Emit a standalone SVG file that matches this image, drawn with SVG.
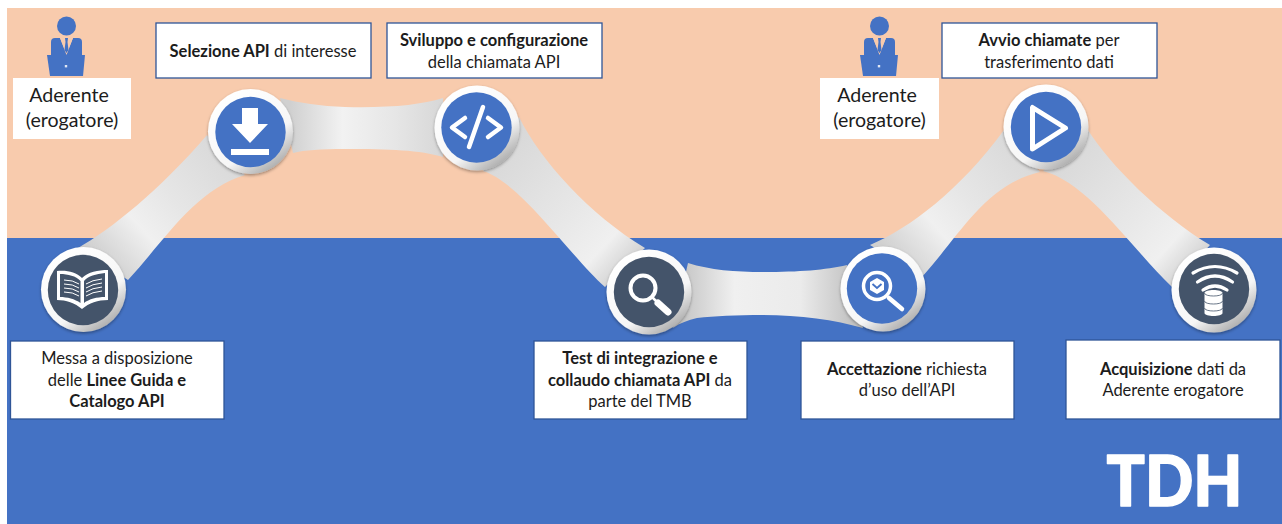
<svg xmlns="http://www.w3.org/2000/svg" xmlns:xlink="http://www.w3.org/1999/xlink" width="1282" height="524" viewBox="0 0 1282 524">
<style>
text{font-family:"Lato","Open Sans","Liberation Sans",sans-serif;fill:#1c1c1c;text-anchor:middle}
.t{font-size:16.5px}
.a{font-size:19.6px}
.b{font-weight:700}
.box{fill:#fff;stroke:#2F5597;stroke-width:1.3}
.wbox{fill:#fff}
.ring{fill:url(#ringG);filter:url(#sh)}
.navy{fill:#44546A}
.blue{fill:#4472C4}
.ic{fill:none;stroke:#fff;stroke-linecap:round;stroke-linejoin:round}
.ln{fill:none;stroke:#fff;stroke-width:1}
</style>
<defs>
<linearGradient id="ringG" x1="0.2" y1="0.1" x2="0.8" y2="0.95"><stop offset="0" stop-color="#fff"/><stop offset="0.65" stop-color="#f6f6f6"/><stop offset="1" stop-color="#a8a8a8"/></linearGradient>
<filter id="sh" x="-20%" y="-20%" width="140%" height="140%"><feDropShadow dx="0" dy="1.5" stdDeviation="1.8" flood-color="#000" flood-opacity="0.35"/></filter>
<linearGradient id="r1" gradientUnits="userSpaceOnUse" x1="105" y1="265" x2="232" y2="150"><stop offset="0" stop-color="#d0d0d0"/><stop offset="0.3" stop-color="#f0f0f0"/><stop offset="0.55" stop-color="#e6e6e6"/><stop offset="1" stop-color="#d8d8d8"/></linearGradient>
<linearGradient id="r2" gradientUnits="userSpaceOnUse" x1="290" y1="0" x2="440" y2="0"><stop offset="0" stop-color="#d0d0d0"/><stop offset="0.35" stop-color="#f2f2f2"/><stop offset="0.7" stop-color="#e6e6e6"/><stop offset="1" stop-color="#d8d8d8"/></linearGradient>
<linearGradient id="r3" gradientUnits="userSpaceOnUse" x1="500" y1="150" x2="630" y2="270"><stop offset="0" stop-color="#d8d8d8"/><stop offset="0.55" stop-color="#e8e8e8"/><stop offset="0.8" stop-color="#f0f0f0"/><stop offset="1" stop-color="#d0d0d0"/></linearGradient>
<linearGradient id="r4" gradientUnits="userSpaceOnUse" x1="685" y1="0" x2="850" y2="0"><stop offset="0" stop-color="#c8c8c8"/><stop offset="0.3" stop-color="#f0f0f0"/><stop offset="0.7" stop-color="#ebebeb"/><stop offset="1" stop-color="#c4c4c4"/></linearGradient>
<linearGradient id="r5" gradientUnits="userSpaceOnUse" x1="900" y1="265" x2="1030" y2="150"><stop offset="0" stop-color="#d0d0d0"/><stop offset="0.3" stop-color="#f0f0f0"/><stop offset="0.55" stop-color="#e6e6e6"/><stop offset="1" stop-color="#d8d8d8"/></linearGradient>
<linearGradient id="r6" gradientUnits="userSpaceOnUse" x1="1065" y1="150" x2="1195" y2="270"><stop offset="0" stop-color="#d8d8d8"/><stop offset="0.55" stop-color="#e8e8e8"/><stop offset="0.8" stop-color="#f0f0f0"/><stop offset="1" stop-color="#d0d0d0"/></linearGradient>
<g id="person">
<circle cx="66.5" cy="26" r="9.5" class="blue"/>
<path class="blue" d="M51,42 Q51,38 55,38 L60,38 L66.5,54 L73,38 L78,38 Q82,38 82,42 L82,55 L51,55Z"/>
<path fill="#F8CBAD" d="M60,38 L62.5,37.5 L66.5,52 L70.5,37.5 L73,38 L66.5,55Z"/>
<path class="blue" d="M65,38 L68,38 L67.5,42 L68.5,50 L66.5,53 L64.5,50 L65.5,42Z"/>
<path class="blue" d="M47,55 L85,55 L83,76 L50,76Z"/>
<rect x="64.8" y="65" width="2.4" height="2.4" fill="#dfe6f4"/>
</g>
</defs>

<rect x="7" y="8" width="1275" height="230" fill="#F8CBAD"/>
<rect x="7" y="238" width="1275" height="286" fill="#4472C4"/>

<g id="connectors">
<path fill="url(#r1)" d="M78,248 C110,230 160,190 207,135 L245,175 C195,190 165,240 128,280 Z"/>
<path fill="url(#r2)" d="M280,98 C300,103 320,106 345,107 C390,108 420,105 443,98 L443,157 C420,150 390,149 345,149 C320,149 305,150 293,153 Z"/>
<path fill="url(#r3)" d="M519,117 C540,160 590,215 645,248 L605,287 C571,257 520,182 483,171 Z"/>
<path fill="url(#r4)" d="M688,263 C710,270 735,272 763,272 C800,272 825,270 847,265 L863,328 C835,320 800,315 763,315 C735,315 715,316 697,318 C688,320 680,323 673,328 Z"/>
<path fill="url(#r5)" d="M870,245 C910,228 960,190 1004,130 L1040,172 C985,185 960,235 922,277 Z"/>
<path fill="url(#r6)" d="M1088,130 C1110,165 1160,215 1210,245 L1172,287 C1133,250 1088,182 1043,171 Z"/>
</g>

<g id="n-book">
<circle class="ring" cx="83.5" cy="289.5" r="42.5"/>
<circle class="navy" cx="83" cy="290" r="35.2"/>
<path fill="#fff" d="M57,271 C67,270 76,272 82,278 C88,272 98,270 108,270 L108,300 C98,300 89,303 82,309 C75,303 66,300 57,300Z"/>
<path class="navy" d="M60,274 C68,274 76,276 80.5,281 L80.5,303 C75,299 67,297 60,297Z M84,281 C88,276 96,274 105,273 L105,297 C97,297 89,299 84,303Z"/>
<path class="ln" d="M64,280 Q73,280 79,284 M64,284 Q73,284 79,288 M64,288 Q73,288 79,292 M64,292 Q73,292 79,296 M86,284 Q92,280 102,279 M86,288 Q92,284 102,283 M86,292 Q92,288 102,287 M86,296 Q92,292 102,291"/>
</g>

<g id="n-download">
<circle class="ring" cx="250.5" cy="131.5" r="42.5"/>
<circle class="blue" cx="250.5" cy="132" r="35.2"/>
<path fill="#fff" d="M242,108 L258,108 L258,124 L268,124 L250,143 L232,124 L242,124Z"/>
<rect x="231" y="149" width="38" height="6" fill="#fff"/>
</g>

<g id="n-code">
<circle class="ring" cx="477" cy="128" r="42.5"/>
<circle class="blue" cx="476.5" cy="127.5" r="35.2"/>
<path class="ic" stroke-width="4.5" d="M465,118 L452,127.5 L465,137 M483,107 L469,147 M488,118 L501,127.5 L488,137"/>
</g>

<g id="n-test">
<circle class="ring" cx="649" cy="292" r="42.5"/>
<circle class="navy" cx="649" cy="292" r="35.2"/>
<circle cx="643" cy="288" r="12.5" fill="none" stroke="#fff" stroke-width="4"/>
<path class="ic" stroke-width="2.5" d="M653,298 L657,302"/>
<path class="ic" stroke-width="7" stroke-linecap="butt" d="M658,303 L668,312"/>
</g>

<g id="n-accept">
<circle class="ring" cx="883" cy="289" r="42.5"/>
<circle class="blue" cx="882" cy="288.5" r="35.2"/>
<circle cx="877" cy="286" r="13.5" fill="none" stroke="#fff" stroke-width="3.5"/>
<path fill="#fff" d="M877,278 L884,282 L884,290 L877,294 L870,290 L870,282Z"/>
<path fill="none" stroke="#4472C4" stroke-width="1.8" d="M872.5,284 L877,288 L881.5,284"/>
<path class="ic" stroke-width="4.5" d="M889,298 L902,309"/>
</g>

<g id="n-play">
<circle class="ring" cx="1046" cy="127" r="42.5"/>
<circle class="blue" cx="1046" cy="127" r="35.2"/>
<path class="ic" stroke-width="5" d="M1032.5,107.5 L1032.5,149 L1065.5,128Z"/>
</g>

<g id="n-wifi">
<circle class="ring" cx="1214" cy="290" r="42.5"/>
<circle class="navy" cx="1214" cy="289" r="35.2"/>
<path class="ic" stroke-width="3.2" d="M1193,273 Q1215,260 1237,273 M1197.5,282 Q1215,270 1232.5,282 M1203,290 Q1215,282 1227,290"/>
<path fill="#fff" d="M1204.5,293 C1204.5,289 1222.5,289 1222.5,293 L1222.5,313 C1222.5,317 1204.5,317 1204.5,313Z"/>
<path fill="none" stroke="#44546A" stroke-width="0.8" d="M1204.5,293 C1204.5,297 1222.5,297 1222.5,293 M1204.5,301 C1204.5,305 1222.5,305 1222.5,301 M1204.5,308 C1204.5,312 1222.5,312 1222.5,308"/>
</g>

<g id="n-aderente1">
<use href="#person"/>
<rect class="wbox" x="13" y="78" width="118" height="61"/>
<text class="a" x="69" y="102">Aderente</text>
<text class="a" x="72" y="127">(erogatore)</text>
</g>

<g id="n-aderente2">
<use href="#person" x="813"/>
<rect class="wbox" x="820" y="78" width="119" height="61"/>
<text class="a" x="877" y="102">Aderente</text>
<text class="a" x="879.5" y="127">(erogatore)</text>
</g>

<g id="n-selezione">
<rect class="box" x="156" y="23" width="215" height="55"/>
<text class="t" x="263" y="57"><tspan class="b">Selezione API</tspan> di interesse</text>
</g>
<g id="n-sviluppo">
<rect class="box" x="387" y="23" width="215" height="55"/>
<text class="t b" x="494" y="46">Sviluppo e configurazione</text>
<text class="t" x="494" y="67.5">della chiamata API</text>
</g>
<g id="n-avvio">
<rect class="box" x="942" y="23" width="215" height="55"/>
<text class="t" x="1049" y="46"><tspan class="b">Avvio chiamate</tspan> per</text>
<text class="t" x="1049" y="67.5">trasferimento dati</text>
</g>
<g id="n-messa">
<rect class="box" x="10.5" y="341" width="213.5" height="78"/>
<text class="t" x="117" y="364">Messa a disposizione</text>
<text class="t" x="117" y="385.5">delle <tspan class="b">Linee Guida e</tspan></text>
<text class="t b" x="117" y="407">Catalogo API</text>
</g>
<g id="n-testbox">
<rect class="box" x="534" y="341" width="213" height="78"/>
<text class="t b" x="640" y="364">Test di integrazione e</text>
<text class="t" x="640" y="385.5"><tspan class="b">collaudo chiamata API</tspan> da</text>
<text class="t" x="640" y="407">parte del TMB</text>
</g>
<g id="n-accettazione">
<rect class="box" x="801" y="341" width="213" height="78"/>
<text class="t" x="907" y="374.5"><tspan class="b">Accettazione</tspan> richiesta</text>
<text class="t" x="907" y="396">d’uso dell’API</text>
</g>
<g id="n-acquisizione">
<rect class="box" x="1066" y="340" width="214" height="79"/>
<text class="t" x="1173" y="374.5"><tspan class="b">Acquisizione</tspan> dati da</text>
<text class="t" x="1173" y="396">Aderente erogatore</text>
</g>
<g id="n-tdh">
<text x="1174.5" y="506" textLength="136" lengthAdjust="spacingAndGlyphs" style="fill:#fff;font-size:71px;font-weight:900;stroke:#fff;stroke-width:1.5;stroke-linejoin:round">TDH</text>
</g>
</svg>
